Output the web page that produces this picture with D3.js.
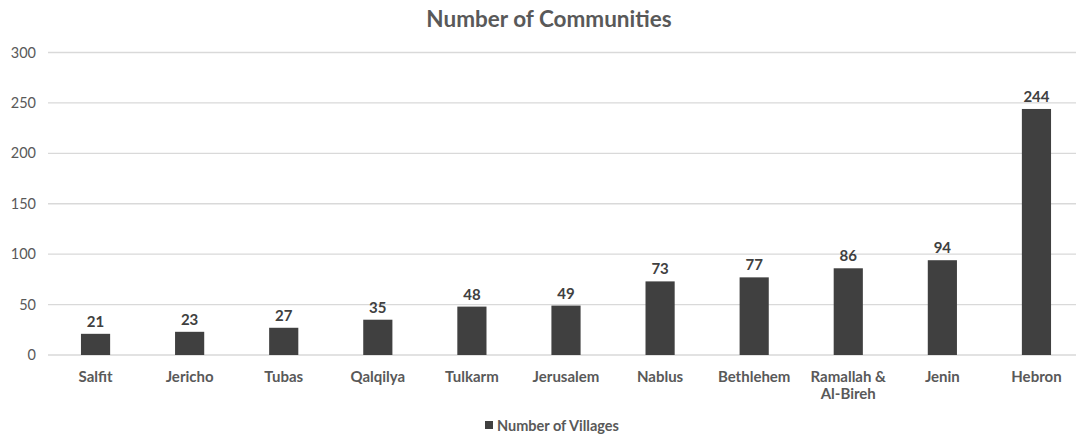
<!DOCTYPE html>
<html><head><meta charset="utf-8">
<script src="https://cdn.jsdelivr.net/npm/d3@7"></script>
<style>body{margin:0;background:#fff}svg{display:block}text{font-family:Lato,"Open Sans",sans-serif}</style>
</head><body>
<script>
const categories = ["Salfit","Jericho","Tubas","Qalqilya","Tulkarm","Jerusalem","Nablus","Bethlehem","Ramallah & Al-Bireh","Jenin","Hebron"];
const villages = [21,23,27,35,48,49,73,77,86,94,244];
const yTicks = [0,50,100,150,200,250,300];
const seriesName = "Number of Villages";
const title = "Number of Communities";

const W=1078,H=439;
const svg=d3.select("body").append("svg").attr("width",W).attr("height",H);
const x=d3.scaleBand().domain(categories).range([48.5,1083.5]).paddingInner(0.69).paddingOuter(0.345);
const y=d3.scaleLinear().domain([0,300]).range([355,52.5]);

svg.append("text").attr("x",549).attr("y",27).attr("text-anchor","middle")
  .attr("font-size",22.5).attr("font-weight","bold").attr("fill","#595959").text(title);

svg.append("g").selectAll("line").data(yTicks).join("line")
  .attr("x1",48).attr("x2",1076).attr("y1",d=>y(d)).attr("y2",d=>y(d))
  .attr("stroke","#d9d9d9").attr("stroke-width",1.3);

const yAxis=svg.append("g").attr("transform","translate(36,0)")
  .call(d3.axisLeft(y).tickValues(yTicks).tickSize(0).tickPadding(0));
yAxis.select(".domain").remove();
yAxis.selectAll("text").attr("font-size",14.5).attr("fill","#595959").attr("font-family","Lato,sans-serif");

svg.append("g").selectAll("rect").data(villages).join("rect")
  .attr("x",(d,i)=>x(categories[i])).attr("width",x.bandwidth())
  .attr("y",d=>y(d)).attr("height",d=>y(0)-y(d)).attr("fill","#404040");

svg.append("g").selectAll("text").data(villages).join("text")
  .attr("x",(d,i)=>x(categories[i])+x.bandwidth()/2).attr("y",d=>y(d)-7)
  .attr("text-anchor","middle").attr("font-size",15).attr("font-weight","bold").attr("fill","#404040").text(d=>d);

const xl=svg.append("g").selectAll("text").data(categories).join("text")
  .attr("x",d=>x(d)+x.bandwidth()/2).attr("y",382).attr("text-anchor","middle")
  .attr("font-size",15).attr("font-weight","bold").attr("fill","#595959");
xl.each(function(d){
  const t=d3.select(this);
  const lines = d==="Ramallah & Al-Bireh" ? ["Ramallah &","Al-Bireh"] : [d];
  lines.forEach((l,k)=>t.append("tspan").attr("x",x(d)+x.bandwidth()/2).attr("dy",k?17:0).text(l));
});

const lg=svg.append("g");
lg.append("rect").attr("x",485).attr("y",421).attr("width",8).attr("height",8).attr("fill","#404040");
lg.append("text").attr("x",497).attr("y",430.5).attr("font-size",14.5).attr("font-weight","bold").attr("fill","#595959").text(seriesName);
</script>
</body></html>
